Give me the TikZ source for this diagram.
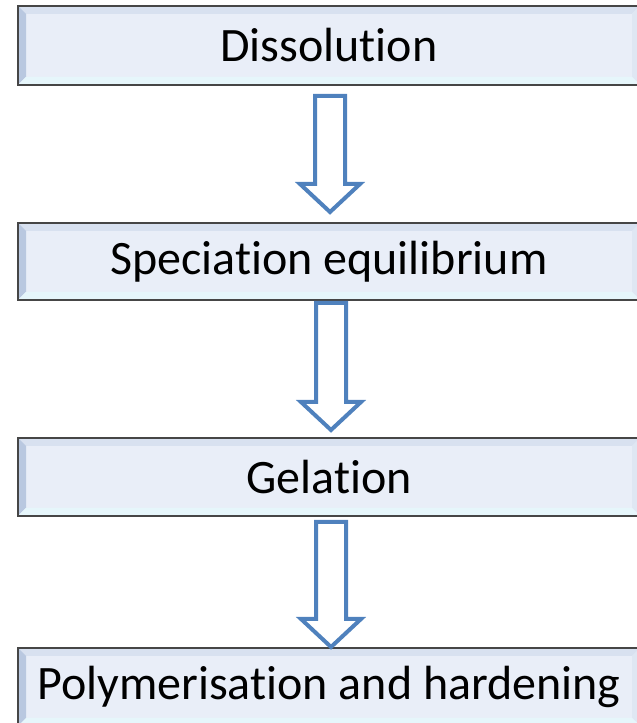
\documentclass[tikz,border=0pt]{standalone}
\usepackage{fontspec}
\setmainfont{Carlito}[Ligatures=NoCommon]
\usetikzlibrary{calc}
\definecolor{boxface}{HTML}{E9EEF8}
\definecolor{bevtop}{HTML}{D8E1F0}
\definecolor{bevleft}{HTML}{B9C8E0}
\definecolor{bevright}{HTML}{DFE7F3}
\definecolor{bevbot}{HTML}{E6F6FB}
\definecolor{boxedge}{HTML}{464646}
\definecolor{arrowblue}{HTML}{4F81BD}
\tikzset{
  bevelbox/.style={draw=boxedge, line width=1.2pt, fill=boxface,
    minimum width=622pt, inner sep=0pt, text=black,
    font=\fontsize{48}{57}\selectfont,
    path picture={
      \fill[bevtop] (path picture bounding box.north west) -- (path picture bounding box.north east)
        -- ([shift={(-8pt,-8pt)}]path picture bounding box.north east) -- ([shift={(8pt,-8pt)}]path picture bounding box.north west) -- cycle;
      \fill[bevleft] (path picture bounding box.north west) -- (path picture bounding box.south west)
        -- ([shift={(8pt,8pt)}]path picture bounding box.south west) -- ([shift={(8pt,-8pt)}]path picture bounding box.north west) -- cycle;
      \fill[bevright] (path picture bounding box.north east) -- (path picture bounding box.south east)
        -- ([shift={(-8pt,8pt)}]path picture bounding box.south east) -- ([shift={(-8pt,-8pt)}]path picture bounding box.north east) -- cycle;
      \fill[bevbot] (path picture bounding box.south west) -- (path picture bounding box.south east)
        -- ([shift={(-8pt,8pt)}]path picture bounding box.south east) -- ([shift={(8pt,8pt)}]path picture bounding box.south west) -- cycle;
    }},
  flowarr/.style={draw=arrowblue, line width=4pt, fill=white, line join=miter}
}
\begin{document}
\begin{tikzpicture}[x=1pt,y=1pt]
\useasboundingbox (0,0) rectangle (637,723);
\node[bevelbox, minimum height=79pt] (b1) at (329,677.5) {Dissolution};
\node[bevelbox, minimum height=77pt] (b2) at (329,461.5) {Speciation equilibrium};
\node[bevelbox, minimum height=78pt] (b3) at (329,246) {Gelation};
\node[bevelbox, minimum height=78pt] (b4) at (329,36) {Polymerisation and hardening};
\coordinate (a1t) at (330,627);
\coordinate (a1p) at (330,511);
\coordinate (a2t) at (331,420);
\coordinate (a2p) at (331,293);
\coordinate (a3t) at (331,201);
\coordinate (a3p) at (331,76);
\foreach \ta/\pa in {a1t/a1p,a2t/a2p,a3t/a3p}{
  \draw[flowarr] let \p1=(\ta), \p2=(\pa) in
    (\x1-15pt,\y1) -- (\x1+15pt,\y1) -- (\x1+15pt,\y2+28pt) -- (\x1+30pt,\y2+28pt)
    -- (\x2,\y2) -- (\x1-30pt,\y2+28pt) -- (\x1-15pt,\y2+28pt) -- cycle;
}
\end{tikzpicture}
\end{document}
